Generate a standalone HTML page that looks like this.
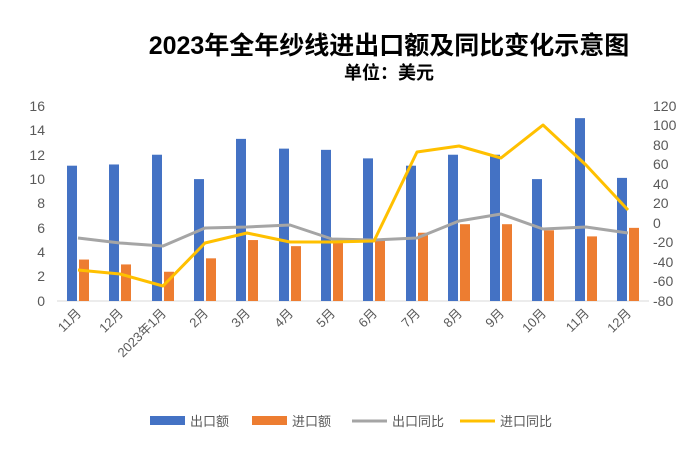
<!DOCTYPE html>
<html><head><meta charset="utf-8"><style>
body{margin:0;background:#fff;}
svg text{font-family:"Liberation Sans","Noto Sans CJK SC",sans-serif;}
</style></head><body>
<svg width="696" height="454" viewBox="0 0 696 454" xmlns="http://www.w3.org/2000/svg">
<rect width="696" height="454" fill="#fff"/>
<text x="389" y="54" text-anchor="middle" font-size="25" font-weight="bold" fill="#000">2023年全年纱线进出口额及同比变化示意图</text>
<text x="389" y="79" text-anchor="middle" font-size="18" font-weight="bold" fill="#000">单位：美元</text>
<g font-size="14" fill="#595959" text-anchor="end">
<text x="45" y="111">16</text><text x="45" y="135">14</text><text x="45" y="160">12</text><text x="45" y="184">10</text><text x="45" y="208">8</text><text x="45" y="233">6</text><text x="45" y="257">4</text><text x="45" y="281">2</text><text x="45" y="306">0</text>
</g>
<g font-size="14" fill="#595959" text-anchor="start">
<text x="653" y="111">120</text><text x="653" y="130">100</text><text x="653" y="150">80</text><text x="653" y="169">60</text><text x="653" y="189">40</text><text x="653" y="208">20</text><text x="653" y="228">0</text><text x="653" y="247">-20</text><text x="653" y="267">-40</text><text x="653" y="286">-60</text><text x="653" y="306">-80</text>
</g>
<line x1="57" y1="301" x2="649" y2="301" stroke="#d9d9d9"/>
<g id="bars"></g>
<polyline fill="none" stroke="#a5a5a5" stroke-width="3" stroke-linejoin="round" points="78,238 120,243 163,246 205,228 247,227 290,225 332,239 374,240 417,238 459,221 501,214 543,229 586,227 628,233"/>
<polyline fill="none" stroke="#ffc000" stroke-width="3" stroke-linejoin="round" points="78,270 120,274 163,286 205,243 247,233 290,242 332,242 374,241 417,152 459,146 501,158 543,125 586,165 628,210"/>
<g id="labels" font-size="13" fill="#595959" text-anchor="end"></g>
<rect x="150" y="416" width="35" height="9" fill="#4472c4"/><text x="190" y="426" font-size="13" fill="#595959">出口额</text>
<rect x="252" y="416" width="35" height="9" fill="#ed7d31"/><text x="292" y="426" font-size="13" fill="#595959">进口额</text>
<line x1="352" y1="421" x2="387" y2="421" stroke="#a5a5a5" stroke-width="3"/><text x="392" y="426" font-size="13" fill="#595959">出口同比</text>
<line x1="460" y1="421" x2="495" y2="421" stroke="#ffc000" stroke-width="3"/><text x="500" y="426" font-size="13" fill="#595959">进口同比</text>
</svg>
<script>
var c=[78,120,163,205,247,290,332,374,417,459,501,543,586,628];
var b=[11.1,11.2,12,10,13.3,12.5,12.4,11.7,11.1,12,12,10,15,10.1];
var o=[3.4,3.0,2.4,3.5,5.0,4.5,4.9,5.1,5.6,6.3,6.3,5.8,5.3,6.0];
var L=["11月","12月","2023年1月","2月","3月","4月","5月","6月","7月","8月","9月","10月","11月","12月"];
var ns="http://www.w3.org/2000/svg",g=document.getElementById("bars"),lg=document.getElementById("labels");
for(var i=0;i<14;i++){
 var r=document.createElementNS(ns,"rect");r.setAttribute("x",c[i]-11);r.setAttribute("width",10);r.setAttribute("y",301-b[i]*12.19);r.setAttribute("height",b[i]*12.19);r.setAttribute("fill","#4472c4");g.appendChild(r);
 r=document.createElementNS(ns,"rect");r.setAttribute("x",c[i]+1);r.setAttribute("width",10);r.setAttribute("y",301-o[i]*12.19);r.setAttribute("height",o[i]*12.19);r.setAttribute("fill","#ed7d31");g.appendChild(r);
 var t=document.createElementNS(ns,"text");t.setAttribute("transform","translate("+(c[i]+4)+",314) rotate(-45)");t.textContent=L[i];lg.appendChild(t);
}
</script>
</body></html>
